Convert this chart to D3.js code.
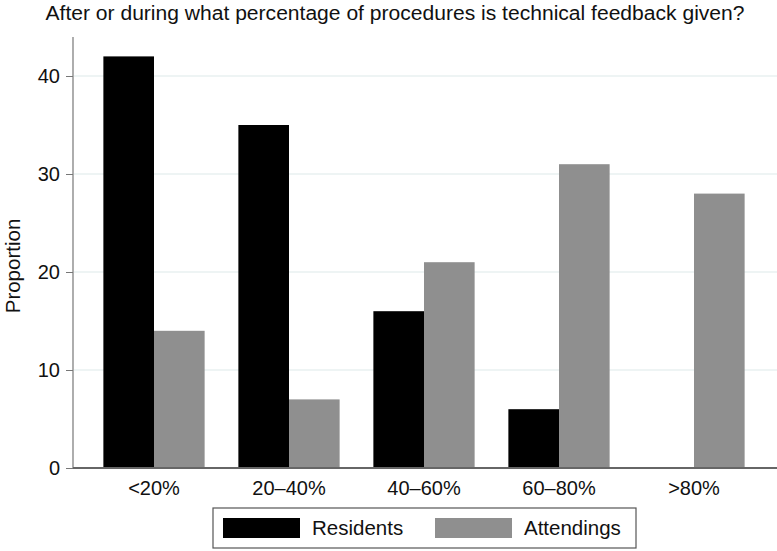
<!DOCTYPE html>
<html><head><meta charset="utf-8">
<script src="https://cdn.jsdelivr.net/npm/d3@7"></script>
<style>body{margin:0;background:#fff}svg{display:block}text{font-family:"Liberation Sans",Arial,sans-serif;fill:#111}</style>
</head><body><svg id="c" width="777" height="551"></svg>
<script>
const categories = ["<20%", "20–40%", "40–60%", "60–80%", ">80%"];
const residents = [42, 35, 16, 6, 0];
const attendings = [14, 7, 21, 31, 28];
const seriesNames = ["Residents", "Attendings"];
const yTicks = [0, 10, 20, 30, 40];
const title = "After or during what percentage of procedures is technical feedback given?";
const yLabel = "Proportion";

const colors = {Residents: "#000000", Attendings: "#8f8f8f"};
const svg = d3.select("#c");
const x = d3.scaleBand().domain(categories).range([86.5, 761.5]).paddingInner(0.25).paddingOuter(0.125);
const xs = d3.scaleBand().domain(seriesNames).range([0, x.bandwidth()]);
const y = d3.scaleLinear().domain([0, 40]).range([468, 76]);
const FONT = "Liberation Sans, Arial, sans-serif";

// grid
svg.append("g").selectAll("line").data(yTicks.slice(1)).join("line")
  .attr("x1", 74).attr("x2", 777).attr("y1", d => y(d)).attr("y2", d => y(d))
  .attr("stroke", "#e9f0f0").attr("stroke-width", 1.5);

const data = [];
categories.forEach((c, i) => {
  data.push({c, s: "Residents", v: residents[i]});
  data.push({c, s: "Attendings", v: attendings[i]});
});
svg.append("g").selectAll("rect").data(data.filter(d => d.v > 0)).join("rect")
  .attr("x", d => x(d.c) + xs(d.s)).attr("width", xs.bandwidth())
  .attr("y", d => y(d.v)).attr("height", d => y(0) - y(d.v))
  .attr("fill", d => colors[d.s]);

// y axis
const ya = svg.append("g").attr("transform", "translate(73,0)")
  .call(d3.axisLeft(y).tickValues(yTicks).tickSize(7).tickPadding(6));
ya.select(".domain").attr("stroke", "#777").attr("stroke-width", 1.2).attr("d", "M0,468V37");
ya.selectAll(".tick line").attr("stroke", "#777");
ya.selectAll(".tick text").attr("font-size", 20).attr("fill", "#111").attr("font-family", FONT);

// x axis
const xa = svg.append("g").attr("transform", "translate(0,468)")
  .call(d3.axisBottom(x).tickSize(0).tickPadding(13));
xa.select(".domain").attr("stroke", "#666").attr("stroke-width", 2).attr("d", "M73,0H777");
xa.selectAll(".tick text").attr("font-size", 20).attr("fill", "#111").attr("font-family", FONT);

svg.append("text").attr("x", 395).attr("y", 20).attr("text-anchor", "middle")
  .attr("font-size", 19.5).attr("textLength", 699).attr("lengthAdjust", "spacingAndGlyphs").text(title);
svg.append("text").attr("transform", "translate(20,266) rotate(-90)").attr("text-anchor", "middle")
  .attr("font-size", 20.5).text(yLabel);

// legend
const lg = svg.append("g");
lg.append("rect").attr("x", 213).attr("y", 508).attr("width", 423).attr("height", 40)
  .attr("fill", "#fff").attr("stroke", "#555").attr("stroke-width", 1.2);
const lx = [223, 435];
seriesNames.forEach((s, i) => {
  lg.append("rect").attr("x", lx[i]).attr("y", 518).attr("width", 77).attr("height", 20).attr("fill", colors[s]);
  lg.append("text").attr("x", lx[i] + 89).attr("y", 535).attr("font-size", 20.5).text(s);
});
</script></body></html>
